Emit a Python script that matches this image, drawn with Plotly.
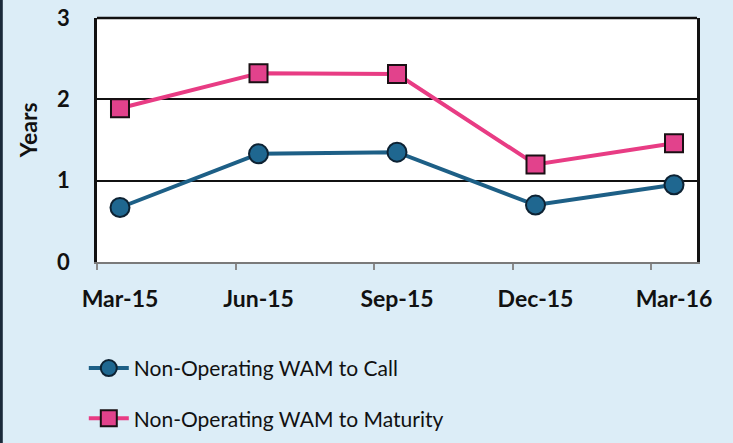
import plotly.graph_objects as go

categories = ["Mar-15", "Jun-15", "Sep-15", "Dec-15", "Mar-16"]
wam_call = [0.67, 1.33, 1.35, 0.70, 0.95]
wam_maturity = [1.89, 2.32, 2.31, 1.20, 1.46]
y_ticks = [0, 1, 2, 3]

x_pos = list(range(len(categories)))

fig = go.Figure()
fig.add_trace(go.Scatter(
    x=x_pos, y=wam_call, mode="lines+markers", name="Non-Operating WAM to Call",
    line=dict(color="#1d5f86", width=4),
    marker=dict(symbol="circle", size=19, color="#1f6790", line=dict(color="#0d2233", width=2)),
    legendgroup="a",
))
fig.add_trace(go.Scatter(
    x=x_pos, y=wam_maturity, mode="lines+markers", name="Non-Operating WAM to Maturity",
    line=dict(color="#e83c84", width=4),
    marker=dict(symbol="square", size=18, color="#e2428c", line=dict(color="#1a1014", width=2)),
    legendgroup="b",
))

fig.update_layout(
    width=733, height=443,
    margin=dict(l=97, r=36, t=18, b=181, autoexpand=False),
    paper_bgcolor="#dcedf7",
    plot_bgcolor="#ffffff",
    font=dict(family="Lato, 'Open Sans', sans-serif", color="#111111"),
    showlegend=True,
    legend=dict(
        x=-0.022, y=-0.352, xanchor="left", yanchor="top",
        font=dict(size=21, family="Lato, sans-serif", color="#111111"),
        bgcolor="rgba(0,0,0,0)", tracegroupgap=20, itemwidth=40,
    ),
    xaxis=dict(
        range=[-0.166, 4.166],
        tickmode="array", tickvals=x_pos, ticktext=categories,
        ticks="", showgrid=False, zeroline=False,
        tickfont=dict(size=23, family="Lato, sans-serif", color="#111111", weight="bold"),
        ticklabelstandoff=15,
        showline=True, linecolor="#7a7a7a", linewidth=2,
        minor=dict(ticks="outside", tick0=-0.166, dtick=1, ticklen=6, tickcolor="#8a8a8a", tickwidth=1.5, showgrid=False),
    ),
    yaxis=dict(
        range=[0, 3], tickmode="array", tickvals=y_ticks,
        showgrid=True, gridcolor="#111111", gridwidth=1.5, zeroline=False,
        showline=True, linecolor="#111111", linewidth=2.5, mirror=True,
        ticks="", ticklabelstandoff=20,
        tickfont=dict(size=22, family="Lato, sans-serif", color="#111111", weight="bold"),
    ),
    annotations=[
        dict(text="Years", xref="paper", yref="paper", x=-0.115, y=0.54,
             xanchor="center", yanchor="middle", showarrow=False, textangle=-90,
             font=dict(size=23, family="Lato, sans-serif", color="#111111", weight="bold")),
    ],
    shapes=[
        dict(type="line", xref="paper", yref="paper", x0=0, x1=1, y0=1, y1=1,
             line=dict(color="#111111", width=2.5)),
        dict(type="line", xref="paper", yref="paper", x0=-0.1595, x1=-0.1595, y0=-0.75, y1=1.1,
             line=dict(color="#1b2a3a", width=3)),
    ],
)

fig.write_html(
    "out.html",
    config={"displayModeBar": False},
    post_script="document.body.style.margin='0';document.body.style.padding='0';document.body.style.background='#dcedf7';",
)
